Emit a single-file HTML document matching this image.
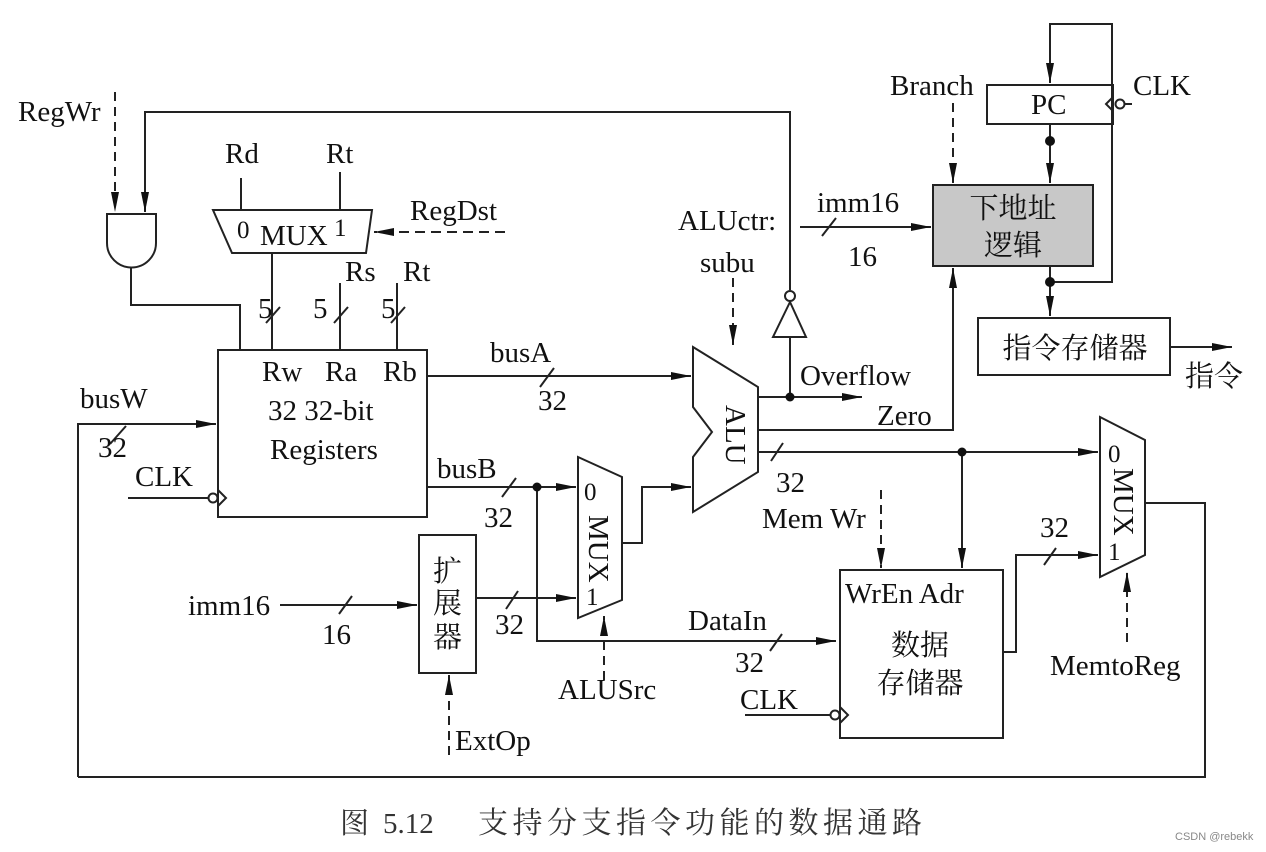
<!DOCTYPE html>
<html><head><meta charset="utf-8"><style>
html,body{margin:0;padding:0;background:#fff;}
svg{display:block;}
text{font-family:"Liberation Serif","Noto Serif CJK SC",serif;font-size:29px;fill:#111;}
.cj{font-family:"Liberation Serif","Noto Serif CJK SC","Noto Sans CJK SC",serif;}
.s{font-size:25px;}
</style></head><body>
<svg width="1266" height="852" viewBox="0 0 1266 852" xmlns="http://www.w3.org/2000/svg">
<defs>
<marker id="a" viewBox="0 0 20 8" refX="20" refY="4" markerWidth="20" markerHeight="8" markerUnits="userSpaceOnUse" orient="auto"><path d="M0,0L20,4L0,8z" fill="#111"/></marker>
</defs>
<g stroke="#222" stroke-width="2" fill="none">
<line x1="115" y1="92" x2="115" y2="212" stroke-dasharray="9,6" marker-end="url(#a)"/>
<polyline points="790,290 790,112 145,112 145,212" marker-end="url(#a)"/>
<path d="M107,214 L156,214 L156,243 A24.5,24.5 0 0 1 107,243 Z"/>
<polyline points="131,268 131,305 240,305 240,350"/>
<polygon points="213,210 372,210 366,253 232,253"/>
<line x1="241" y1="178" x2="241" y2="210"/>
<line x1="340" y1="172" x2="340" y2="210"/>
<line x1="505" y1="232" x2="374" y2="232" stroke-dasharray="10,6" marker-end="url(#a)"/>
<line x1="272" y1="253" x2="272" y2="350"/>
<line x1="340" y1="283" x2="340" y2="350"/>
<line x1="397" y1="283" x2="397" y2="350"/>
<line x1="266" y1="323" x2="280" y2="307"/>
<line x1="334" y1="323" x2="348" y2="307"/>
<line x1="391" y1="323" x2="405" y2="307"/>
<rect x="218" y="350" width="209" height="167"/>
<polyline points="218,490 226,498 218,506"/>
<circle cx="213" cy="498" r="4.5"/>
<line x1="128" y1="498" x2="208" y2="498"/>
<polyline points="78,777 78,424 216,424" marker-end="url(#a)"/>
<line x1="110" y1="444" x2="126" y2="426"/>
<line x1="427" y1="376" x2="691" y2="376" marker-end="url(#a)"/>
<line x1="540" y1="387" x2="554" y2="368"/>
<line x1="427" y1="487" x2="576" y2="487" marker-end="url(#a)"/>
<line x1="502" y1="497" x2="516" y2="478"/>
<polyline points="537,487 537,641 836,641" marker-end="url(#a)"/>
<line x1="770" y1="651" x2="782" y2="634"/>
<polygon points="578,457 622,477 622,600 578,618"/>
<polyline points="622,543 642,543 642,487 691,487" marker-end="url(#a)"/>
<line x1="604" y1="680" x2="604" y2="616" stroke-dasharray="9,6" marker-end="url(#a)"/>
<rect x="419" y="535" width="57" height="138"/>
<line x1="280" y1="605" x2="417" y2="605" marker-end="url(#a)"/>
<line x1="339" y1="614" x2="352" y2="596"/>
<line x1="476" y1="598" x2="576" y2="598" marker-end="url(#a)"/>
<line x1="506" y1="609" x2="518" y2="591"/>
<line x1="449" y1="755" x2="449" y2="675" stroke-dasharray="9,6" marker-end="url(#a)"/>
<polygon points="693,347 758,387 758,472 693,512 693,457 712,432 693,407"/>
<line x1="733" y1="278" x2="733" y2="345" stroke-dasharray="9,6" marker-end="url(#a)"/>
<circle cx="790" cy="296" r="5"/>
<polygon points="790,302 773,337 806,337"/>
<line x1="790" y1="337" x2="790" y2="397"/>
<line x1="758" y1="397" x2="862" y2="397" marker-end="url(#a)"/>
<polyline points="758,430 953,430 953,268" marker-end="url(#a)"/>
<line x1="758" y1="452" x2="1098" y2="452" marker-end="url(#a)"/>
<line x1="771" y1="461" x2="783" y2="443"/>
<line x1="962" y1="452" x2="962" y2="568" marker-end="url(#a)"/>
<rect x="933" y="185" width="160" height="81" fill="#c8c8c8"/>
<rect x="987" y="85" width="126" height="39"/>
<polyline points="1113,97 1106,104 1113,111"/>
<circle cx="1120" cy="104" r="4.5"/>
<line x1="1125" y1="104" x2="1132" y2="104"/>
<line x1="1050" y1="124" x2="1050" y2="183" marker-end="url(#a)"/>
<line x1="953" y1="103" x2="953" y2="183" stroke-dasharray="9,6" marker-end="url(#a)"/>
<line x1="800" y1="227" x2="931" y2="227" marker-end="url(#a)"/>
<line x1="822" y1="236" x2="836" y2="218"/>
<line x1="1050" y1="266" x2="1050" y2="316" marker-end="url(#a)"/>
<polyline points="1050,282 1112,282 1112,24 1050,24 1050,83" marker-end="url(#a)"/>
<rect x="978" y="318" width="192" height="57"/>
<line x1="1170" y1="347" x2="1232" y2="347" marker-end="url(#a)"/>
<rect x="840" y="570" width="163" height="168"/>
<polyline points="840,707 848,715 840,723"/>
<circle cx="835" cy="715" r="4.5"/>
<line x1="745" y1="715" x2="830" y2="715"/>
<line x1="881" y1="490" x2="881" y2="568" stroke-dasharray="9,6" marker-end="url(#a)"/>
<polyline points="1003,652 1016,652 1016,555 1098,555" marker-end="url(#a)"/>
<line x1="1044" y1="565" x2="1056" y2="548"/>
<polygon points="1100,417 1145,440 1145,555 1100,577"/>
<line x1="1127" y1="642" x2="1127" y2="572" stroke-dasharray="9,6" marker-end="url(#a)"/>
<polyline points="1145,503 1205,503 1205,777 78,777"/>
</g>
<g fill="#111">
<circle cx="537" cy="487" r="4.5"/><circle cx="790" cy="397" r="4.5"/>
<circle cx="962" cy="452" r="4.5"/><circle cx="1050" cy="141" r="5"/><circle cx="1050" cy="282" r="5"/>
</g>
<text x="18" y="121">RegWr</text>
<text x="225" y="163">Rd</text><text x="326" y="163">Rt</text>
<text x="237" y="238" class="s">0</text><text x="260" y="245">MUX</text><text x="334" y="236" class="s">1</text>
<text x="410" y="220">RegDst</text>
<text x="345" y="281">Rs</text><text x="403" y="281">Rt</text>
<text x="258" y="318">5</text><text x="313" y="318">5</text><text x="381" y="318">5</text>
<text x="262" y="381">Rw</text><text x="325" y="381">Ra</text><text x="383" y="381">Rb</text>
<text x="268" y="420">32 32-bit</text>
<text x="270" y="459">Registers</text>
<text x="80" y="408">busW</text><text x="98" y="457">32</text>
<text x="135" y="486">CLK</text>
<text x="490" y="362">busA</text><text x="538" y="410">32</text>
<text x="437" y="478">busB</text><text x="484" y="527">32</text>
<text x="188" y="615">imm16</text><text x="322" y="644">16</text>
<text x="495" y="634">32</text>
<text class="cj" x="433" y="581">扩</text><text class="cj" x="433" y="613">展</text><text class="cj" x="433" y="647">器</text>
<text x="455" y="750">ExtOp</text>
<text x="558" y="699">ALUSrc</text>
<text x="584" y="500" class="s">0</text><text x="586" y="605" class="s">1</text>
<text transform="translate(589,515) rotate(90)">MUX</text>
<text transform="translate(726,405) rotate(90)">ALU</text>
<text x="678" y="230">ALUctr:</text><text x="700" y="272">subu</text>
<text x="800" y="385">Overflow</text><text x="877" y="425">Zero</text>
<text x="776" y="492">32</text>
<text x="762" y="528">Mem Wr</text>
<text x="688" y="630">DataIn</text><text x="735" y="672">32</text>
<text x="740" y="709">CLK</text>
<text x="845" y="603">WrEn  Adr</text>
<text class="cj" x="920" y="655" text-anchor="middle">数据</text>
<text class="cj" x="920" y="693" text-anchor="middle">存储器</text>
<text x="1040" y="537">32</text>
<text x="1050" y="675">MemtoReg</text>
<text x="1108" y="462" class="s">0</text><text x="1108" y="560" class="s">1</text>
<text transform="translate(1114,468) rotate(90)">MUX</text>
<text x="890" y="95">Branch</text>
<text x="1031" y="114">PC</text>
<text x="1133" y="95">CLK</text>
<text x="817" y="212">imm16</text><text x="848" y="266">16</text>
<text class="cj" x="1013" y="218" text-anchor="middle">下地址</text>
<text class="cj" x="1013" y="255" text-anchor="middle">逻辑</text>
<text class="cj" x="1075" y="358" text-anchor="middle">指令存储器</text>
<text class="cj" x="1185" y="386">指令</text>
<text class="cj" x="340" y="833" style="font-size:29px;fill:#333">图</text>
<text x="383" y="833" style="font-size:29px;fill:#333">5.12</text>
<text class="cj" x="478" y="833" style="font-size:30px;fill:#333;letter-spacing:4.5px">支持分支指令功能的数据通路</text>
<text x="1175" y="840" style="font-size:11px;fill:#888;font-family:'Liberation Sans',sans-serif">CSDN @rebekk</text>
</svg>
</body></html>
